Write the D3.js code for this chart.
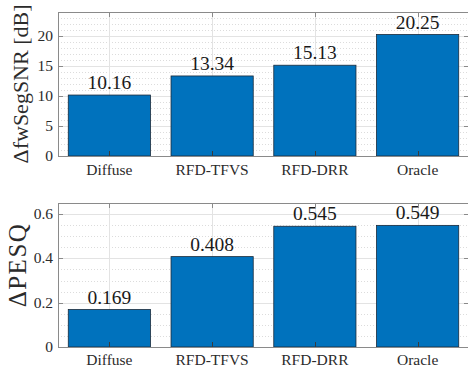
<!DOCTYPE html>
<html>
<head>
<meta charset="utf-8">
<script src="https://cdn.jsdelivr.net/npm/d3@7"></script>
<style>
  html, body { margin: 0; padding: 0; background: #fff; }
  svg text { font-family: 'Liberation Serif', 'DejaVu Serif', serif; }
</style>
</head>
<body>
<svg id="chart" width="468" height="371"></svg>
<script>
// Methods compared in both panels
const methods = ["Diffuse", "RFD-TFVS", "RFD-DRR", "Oracle"];

// Improvement in frequency-weighted segmental SNR (dB)
const fwSegSNR = [10.16, 13.34, 15.13, 20.25];
const fwSegSNRLabels = ["10.16", "13.34", "15.13", "20.25"];
const fwSegSNRTicks = [0, 5, 10, 15, 20];

// Improvement in PESQ
const pesq = [0.169, 0.408, 0.545, 0.549];
const pesqLabels = ["0.169", "0.408", "0.545", "0.549"];
const pesqTicks = [0, 0.2, 0.4, 0.6];

const FONT = "Liberation Serif, DejaVu Serif, serif";
const svg = d3.select("#chart").attr("font-family", FONT);

const barColor = "#0072BD";
const boxColor = "#8a8a8a";
const gridColor = "#e3e3e3";
const textColor = "#2b2b2b";

function panel(cfg) {
  const { top, bottom, left, right, values, labels, ticks, tickFmt,
          yMax, minorStep, yLabel, labelX, labelY, labelSize, labelSpacing, xLabelY } = cfg;

  const x = d3.scaleBand().domain(methods).range([left, right]).paddingInner(0.2).paddingOuter(0.1);
  const y = d3.scaleLinear().domain([0, yMax]).range([bottom, top]);
  const g = svg.append("g");

  // axes background
  g.append("rect").attr("x", left).attr("y", top)
    .attr("width", right - left).attr("height", bottom - top).attr("fill", "#fff");

  // minor grid (dotted)
  const minor = d3.range(0, yMax + 1e-9, minorStep).filter(v => !ticks.some(t => Math.abs(t - v) < 1e-9));
  g.selectAll(".minor").data(minor).join("line")
    .attr("x1", left).attr("x2", right)
    .attr("y1", d => Math.round(y(d)) + 0.5).attr("y2", d => Math.round(y(d)) + 0.5)
    .attr("stroke", "#dcdcdc").attr("stroke-width", 1).attr("stroke-dasharray", "1,2");

  // major grid
  g.selectAll(".hgrid").data(ticks).join("line")
    .attr("x1", left).attr("x2", right)
    .attr("y1", d => Math.round(y(d)) + 0.5).attr("y2", d => Math.round(y(d)) + 0.5)
    .attr("stroke", gridColor).attr("stroke-width", 1);
  g.selectAll(".vgrid").data(methods).join("line")
    .attr("x1", d => Math.round(x(d) + x.bandwidth() / 2) + 0.5)
    .attr("x2", d => Math.round(x(d) + x.bandwidth() / 2) + 0.5)
    .attr("y1", top).attr("y2", bottom)
    .attr("stroke", gridColor).attr("stroke-width", 1);

  // bars
  g.selectAll(".bar").data(values).join("rect")
    .attr("x", (d, i) => x(methods[i]))
    .attr("y", d => y(d))
    .attr("width", x.bandwidth())
    .attr("height", d => bottom - y(d))
    .attr("fill", barColor)
    .attr("stroke", "#1a2a3a").attr("stroke-width", 0.8);

  // value labels
  g.selectAll(".val").data(values).join("text")
    .attr("x", (d, i) => x(methods[i]) + x.bandwidth() / 2)
    .attr("y", d => y(d) - 6)
    .attr("text-anchor", "middle")
    .attr("font-family", FONT)
    .attr("font-size", 19.5)
    .attr("fill", "#1a1a1a")
    .text((d, i) => labels[i]);

  // box
  g.append("rect").attr("x", left + 0.5).attr("y", top + 0.5)
    .attr("width", right - left - 1).attr("height", bottom - top)
    .attr("fill", "none").attr("stroke", boxColor).attr("stroke-width", 1);

  // ticks: inward on all four sides
  const tl = 5;
  const xc = methods.map(m => Math.round(x(m) + x.bandwidth() / 2) + 0.5);
  xc.forEach(cx => {
    g.append("line").attr("x1", cx).attr("x2", cx).attr("y1", bottom).attr("y2", bottom - tl)
      .attr("stroke", "#3a3a3a");
    g.append("line").attr("x1", cx).attr("x2", cx).attr("y1", top).attr("y2", top + tl)
      .attr("stroke", boxColor);
  });
  ticks.forEach(t => {
    const ty = Math.round(y(t)) + 0.5;
    g.append("line").attr("x1", left).attr("x2", left + tl).attr("y1", ty).attr("y2", ty).attr("stroke", boxColor);
    g.append("line").attr("x1", right - tl).attr("x2", right).attr("y1", ty).attr("y2", ty).attr("stroke", boxColor);
  });

  // y tick labels
  g.selectAll(".ytl").data(ticks).join("text")
    .attr("x", left - 5)
    .attr("y", d => y(d) + 5)
    .attr("text-anchor", "end")
    .attr("font-family", FONT)
    .attr("font-size", 15.5)
    .attr("fill", textColor)
    .text(tickFmt);

  // x tick labels
  g.selectAll(".xtl").data(methods).join("text")
    .attr("x", d => x(d) + x.bandwidth() / 2)
    .attr("y", xLabelY)
    .attr("text-anchor", "middle")
    .attr("font-family", FONT)
    .attr("font-size", 15.5)
    .attr("fill", textColor)
    .text(d => d);

  // y axis title
  g.append("text")
    .attr("transform", `translate(${labelX},${labelY}) rotate(-90)`)
    .attr("text-anchor", "middle")
    .attr("font-family", FONT)
    .attr("font-size", labelSize)
    .attr("letter-spacing", labelSpacing)
    .attr("fill", textColor)
    .text(yLabel);
}

panel({
  top: 12, bottom: 156, left: 58, right: 469,
  values: fwSegSNR, labels: fwSegSNRLabels, ticks: fwSegSNRTicks,
  tickFmt: d => String(d), yMax: 24, minorStep: 1,
  yLabel: "\u0394fwSegSNR [dB]", labelX: 28, labelY: 84, labelSize: 22, labelSpacing: 0, xLabelY: 175
});

panel({
  top: 203, bottom: 347, left: 58, right: 469,
  values: pesq, labels: pesqLabels, ticks: pesqTicks,
  tickFmt: d => d === 0 ? "0" : d.toFixed(1), yMax: 0.65, minorStep: 0.05,
  yLabel: "\u0394PESQ", labelX: 26, labelY: 265, labelSize: 25, labelSpacing: 1.5, xLabelY: 365
});
</script>
</body>
</html>
